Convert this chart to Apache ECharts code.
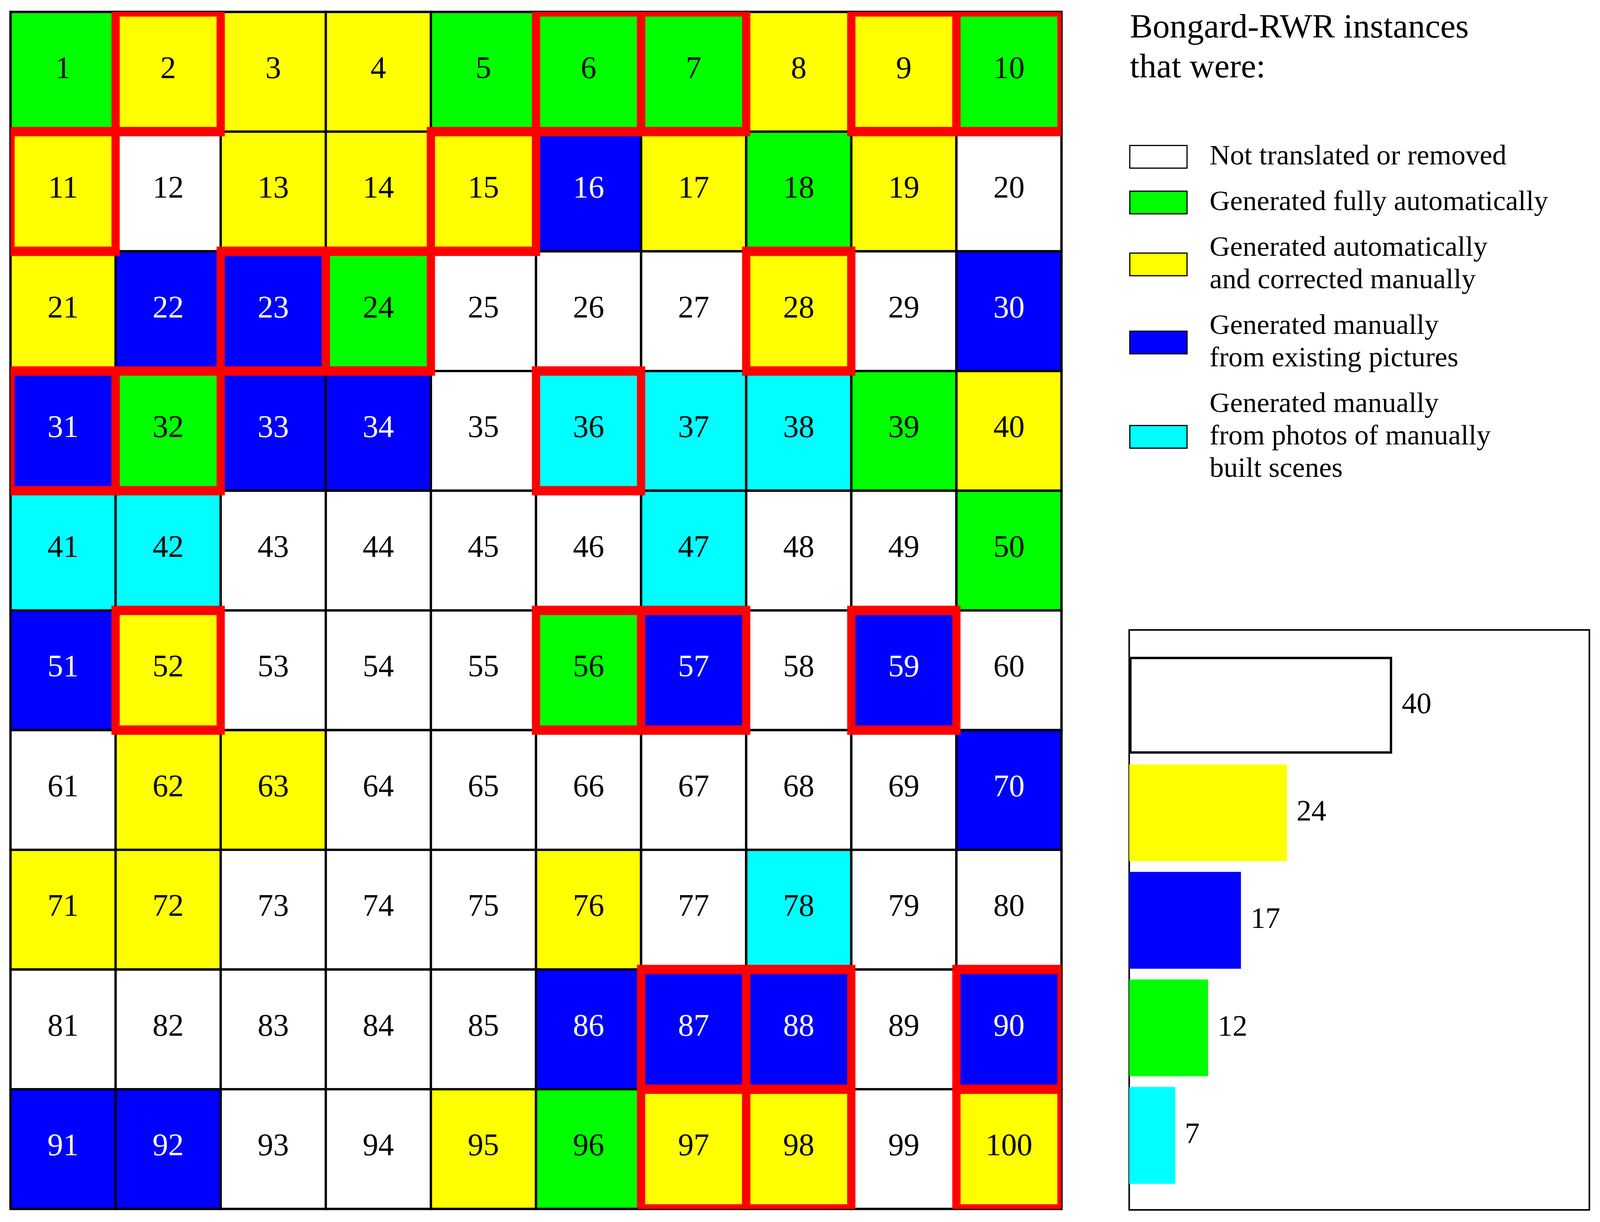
<!DOCTYPE html>
<html>
<head>
<meta charset="utf-8">
<script src="https://cdn.jsdelivr.net/npm/echarts@6.0.0/dist/echarts.min.js"></script>
<style>
html,body{margin:0;padding:0;background:#fff;overflow:hidden;}
#chart{position:absolute;left:0;top:0;}
</style>
</head>
<body>
<div id="chart"></div>
<script>
// ---- data ----
const categoryKeys = ['W', 'G', 'Y', 'B', 'C'];
const categoryNames = [
  'Not translated or removed',
  'Generated fully automatically',
  'Generated automatically\nand corrected manually',
  'Generated manually\nfrom existing pictures',
  'Generated manually\nfrom photos of manually\nbuilt scenes'
];
const categoryColors = ['#ffffff', '#00ff00', '#ffff00', '#0000ff', '#00ffff'];
const categoryTextColors = ['#000000', '#000000', '#000000', '#ffffff', '#000000'];

// 10 x 10 grid, row by row (instances 1..100)
const gridRows = [
  'GYYYGGGYYG',
  'YWYYYBYGYW',
  'YBBGWWWYWB',
  'BGBBWCCCGY',
  'CCWWWWCWWG',
  'BYWWWGBWBW',
  'WYYWWWWWWB',
  'YYWWWYWCWW',
  'WWWWWBBBWB',
  'BBWWYGYYWY'
];
const redOutlined = [2, 6, 7, 9, 10, 11, 15, 23, 24, 28, 31, 32, 36, 52, 56, 57, 59, 87, 88, 90, 97, 98, 100];

const barOrder = ['W', 'Y', 'B', 'G', 'C'];
const barCounts = [40, 24, 17, 12, 7];

const titleText = 'Bongard-RWR instances\nthat were:';
const FONT = '"Liberation Serif", "Times New Roman", serif';

// ---- layout: reference frame is 4666 x 3129, mapped onto the real window ----
const W = window.innerWidth || 4666;
const H = window.innerHeight || 3129;
const sx = W / 4666, sy = H / 3129;
function X(v) { return v * sx; }
function Y(v) { return v * sy; }
const el = document.getElementById('chart');
el.style.width = W + 'px';
el.style.height = H + 'px';

// ---- build ----
const cellData = [];
const cellInfo = [];
gridRows.forEach(function (row, r) {
  row.split('').forEach(function (k, c) {
    const ci = categoryKeys.indexOf(k);
    cellData.push([c, r]);
    cellInfo.push({ cat: ci, label: String(r * 10 + c + 1) });
  });
});
const redData = redOutlined.map(function (n) {
  return [(n - 1) % 10, Math.floor((n - 1) / 10)];
});

const barSeries = categoryKeys.map(function (k, i) {
  const pos = barOrder.indexOf(k);
  const data = barOrder.map(function (_, j) { return j === pos ? barCounts[pos] : null; });
  return {
    type: 'bar',
    name: categoryNames[i],
    xAxisIndex: 1,
    yAxisIndex: 1,
    data: data,
    barGap: '-100%',
    barCategoryGap: '10%',
    itemStyle: {
      color: categoryColors[i],
      borderColor: k === 'W' ? '#000' : categoryColors[i],
      borderWidth: k === 'W' ? 6 : 0
    },
    label: {
      show: true,
      position: 'right',
      distance: X(28),
      fontFamily: FONT,
      fontSize: 76,
      color: '#000'
    },
    emphasis: { disabled: true },
    animation: false
  };
});

const chart = echarts.init(el, null, { renderer: 'canvas', width: W, height: H });
const option = {
  backgroundColor: '#ffffff',
  animation: false,
  title: {
    text: titleText,
    left: X(3295),
    top: Y(22),
    padding: 0,
    textStyle: { fontFamily: FONT, fontSize: 87.5, lineHeight: Y(102), fontWeight: 'normal', color: '#000' }
  },
  legend: {
    orient: 'vertical',
    left: X(3293),
    top: Y(360),
    padding: 0,
    itemWidth: X(167),
    itemHeight: Y(58),
    itemGap: Y(34),
    icon: 'rect',
    selectedMode: false,
    itemStyle: { borderColor: '#000', borderWidth: 3 },
    textStyle: { fontFamily: FONT, fontSize: 72.6, lineHeight: Y(83), color: '#000', padding: [0, 0, 0, X(60)] },
    data: categoryNames
  },
  grid: [
    { left: X(30.6), top: Y(30.6), width: X(3065), height: Y(3065), containLabel: false },
    { left: X(3293), top: Y(1668), width: X(1342), height: Y(1377), containLabel: false }
  ],
  xAxis: [
    { type: 'category', gridIndex: 0, data: ['0','1','2','3','4','5','6','7','8','9'], show: false },
    { type: 'value', gridIndex: 1, min: 0, max: 70, show: false }
  ],
  yAxis: [
    { type: 'category', gridIndex: 0, data: ['0','1','2','3','4','5','6','7','8','9'], inverse: true, show: false },
    { type: 'category', gridIndex: 1, data: barOrder, inverse: true, show: false }
  ],
  graphic: [
    {
      type: 'rect',
      shape: { x: X(3293), y: Y(1613), width: X(1342), height: Y(1485) },
      style: { fill: 'none', stroke: '#000', lineWidth: 4 },
      z: 1
    }
  ],
  series: [
    {
      type: 'custom',
      name: 'cells',
      xAxisIndex: 0,
      yAxisIndex: 0,
      data: cellData,
      z: 2,
      silent: true,
      renderItem: function (params, api) {
        const p = api.coord([api.value(0), api.value(1)]);
        const s = api.size([1, 1]);
        const info = cellInfo[params.dataIndex];
        return {
          type: 'group',
          children: [
            {
              type: 'rect',
              shape: { x: p[0] - s[0] / 2, y: p[1] - s[1] / 2, width: s[0], height: s[1] },
              style: { fill: categoryColors[info.cat], stroke: '#000', lineWidth: 6 }
            },
            {
              type: 'text',
              x: p[0],
              y: p[1] - Y(5),
              style: {
                text: info.label,
                fill: categoryTextColors[info.cat],
                font: '80px ' + FONT,
                align: 'center',
                verticalAlign: 'middle'
              },
              z2: 10
            }
          ]
        };
      }
    },
    {
      type: 'custom',
      name: 'red',
      xAxisIndex: 0,
      yAxisIndex: 0,
      data: redData,
      z: 3,
      silent: true,
      renderItem: function (params, api) {
        const p = api.coord([api.value(0), api.value(1)]);
        const s = api.size([1, 1]);
        const cs = params.coordSys;
        const hwx = X(12), hwy = Y(12);
        const x0 = p[0] - s[0] / 2, x1 = p[0] + s[0] / 2;
        const y0 = p[1] - s[1] / 2, y1 = p[1] + s[1] / 2;
        const ox0 = Math.max(cs.x, x0 - hwx), ox1 = Math.min(cs.x + cs.width, x1 + hwx);
        const oy0 = Math.max(cs.y, y0 - hwy), oy1 = Math.min(cs.y + cs.height, y1 + hwy);
        const ix0 = x0 + hwx, ix1 = x1 - hwx, iy0 = y0 + hwy, iy1 = y1 - hwy;
        const st = { fill: '#ff0000' };
        return {
          type: 'group',
          children: [
            { type: 'rect', shape: { x: ox0, y: oy0, width: ox1 - ox0, height: iy0 - oy0 }, style: st },
            { type: 'rect', shape: { x: ox0, y: iy1, width: ox1 - ox0, height: oy1 - iy1 }, style: st },
            { type: 'rect', shape: { x: ox0, y: iy0, width: ix0 - ox0, height: iy1 - iy0 }, style: st },
            { type: 'rect', shape: { x: ix1, y: iy0, width: ox1 - ix1, height: iy1 - iy0 }, style: st }
          ]
        };
      }
    }
  ].concat(barSeries)
};
chart.setOption(option);
</script>
</body>
</html>
